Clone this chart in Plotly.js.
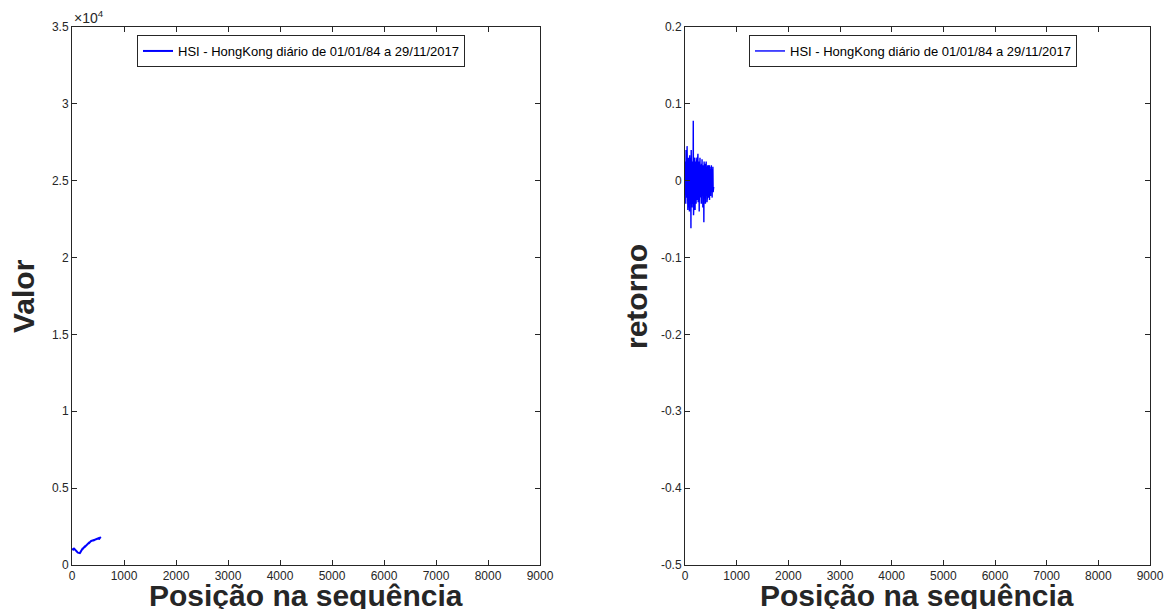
<!DOCTYPE html>
<html>
<head>
<meta charset="utf-8">
<script src="https://cdn.plot.ly/plotly-3.0.1.min.js"></script>
<style>html,body{margin:0;padding:0;background:#fff;}#chart{width:1167px;height:609px;}</style>
</head>
<body>
<div id="chart"></div>
<script>
// Sequence step between read values (positions in the series)
const step = 5;
const seriesName = 'HSI - HongKong diário de 01/01/84 a 29/11/2017';
const xTitle = 'Posição na sequência';
const yTitleLeft = 'Valor';
const yTitleRight = 'retorno';

// HSI index value
const hsiValues = [
  1000,1010,1030,1045,1060,1040,1020,1050,1065,1055,
  1030,1005,985,960,940,920,905,880,860,840,
  850,830,815,800,790,785,775,780,790,780,
  770,790,830,860,880,910,940,970,1000,1020,
  1050,1040,1070,1090,1110,1130,1150,1170,1180,1200,
  1190,1210,1230,1250,1270,1280,1300,1320,1310,1340,
  1360,1380,1370,1400,1420,1440,1430,1460,1480,1500,
  1520,1510,1530,1550,1560,1570,1560,1580,1600,1590,
  1580,1600,1610,1620,1600,1590,1610,1630,1640,1630,
  1650,1660,1640,1670,1690,1700,1680,1700,1720,1710,
  1730,1750,1740,1720,1700,1710,1740,1760,1780,1770,
  1790,1815
];

// Daily returns
const retValues = [
  0.012,-0.018,0.025,-0.030,0.040,-0.022,0.035,-0.015,0.045,-0.028,
  0.030,-0.038,0.020,-0.035,0.030,-0.025,0.018,-0.040,0.033,-0.020,
  0.025,-0.030,0.030,-0.062,0.040,-0.020,0.015,-0.035,0.025,-0.018,
  0.020,-0.030,0.078,-0.045,0.035,-0.025,0.028,-0.020,0.030,-0.038,
  0.022,-0.015,0.025,-0.030,0.018,-0.020,0.030,-0.025,0.020,-0.015,
  0.035,-0.028,0.015,-0.020,0.025,-0.040,0.018,-0.022,0.030,-0.018,
  0.020,-0.025,0.015,-0.030,0.022,-0.020,0.028,-0.015,0.018,-0.035,
  0.020,-0.018,0.015,-0.054,0.025,-0.020,0.018,-0.025,0.022,-0.030,
  0.015,-0.020,0.025,-0.015,0.018,-0.028,0.012,-0.020,0.020,-0.015,
  0.015,-0.022,0.018,-0.012,0.020,-0.025,0.015,-0.018,0.012,-0.020,
  0.018,-0.015,0.020,-0.010,0.012,-0.022,0.015,-0.012,0.018,-0.015,
  0.012,-0.008
];

// Tick labels
const xTicks = [0,1000,2000,3000,4000,5000,6000,7000,8000,9000];
const yTicksLeft = [0,5000,10000,15000,20000,25000,30000,35000];
const yTickTextLeft = ['0','0.5','1','1.5','2','2.5','3','3.5'];
const yTicksRight = [-0.5,-0.4,-0.3,-0.2,-0.1,0,0.1,0.2];
const yTickTextRight = ['-0.5','-0.4','-0.3','-0.2','-0.1','0','0.1','0.2'];

const xHsi = hsiValues.map((_, i) => i * step);
const xRet = retValues.map((_, i) => i * step);

const FONT = 'Liberation Sans, Arial, sans-serif';
const AX = '#262626';
const TITLE_FONT = {family: FONT, size: 30, color: AX, weight: 'bold'};

const traces = [
  {x: xHsi, y: hsiValues, type: 'scatter', mode: 'lines', name: seriesName,
   line: {color: '#0000ff', width: 2}, xaxis: 'x', yaxis: 'y', legend: 'legend'},
  {x: xRet, y: retValues, type: 'scatter', mode: 'lines', name: seriesName,
   line: {color: '#0000ff', width: 1.4}, xaxis: 'x2', yaxis: 'y2', legend: 'legend2'}
];

function xax(domain, anchor) {
  return {domain: domain, anchor: anchor, range: [0, 9000], tickvals: xTicks,
    ticktext: xTicks.map(String), ticks: 'inside', ticklen: 5, tickcolor: AX,
    showline: true, linecolor: AX, linewidth: 1, mirror: 'ticks',
    showgrid: false, zeroline: false, tickfont: {family: FONT, size: 12, color: AX}};
}
function yax(domain, anchor, range, vals, txt) {
  return {domain: domain, anchor: anchor, range: range, tickvals: vals, ticktext: txt,
    ticks: 'inside', ticklen: 5, tickcolor: AX, showline: true, linecolor: AX, linewidth: 1,
    mirror: 'ticks', showgrid: false, zeroline: false,
    tickfont: {family: FONT, size: 12, color: AX}};
}

const yDom = [1 - 565/609, 1 - 27/609];
const yMid = 1 - 296/609;
const layout = {
  width: 1167, height: 609,
  margin: {l: 0, r: 0, t: 0, b: 0},
  paper_bgcolor: '#ffffff', plot_bgcolor: '#ffffff',
  font: {family: FONT, color: AX},
  xaxis: xax([72/1167, 540/1167], 'y'),
  yaxis: yax(yDom, 'x', [0, 35000], yTicksLeft, yTickTextLeft),
  xaxis2: xax([685/1167, 1150/1167], 'y2'),
  yaxis2: yax(yDom, 'x2', [-0.5, 0.2], yTicksRight, yTickTextRight),
  showlegend: true,
  legend: {x: 137/1167, y: 1 - 35/609, xanchor: 'left', yanchor: 'top',
    bgcolor: '#ffffff', bordercolor: AX, borderwidth: 1,
    font: {family: FONT, size: 13, color: '#000'}},
  legend2: {x: 749/1167, y: 1 - 35/609, xanchor: 'left', yanchor: 'top',
    bgcolor: '#ffffff', bordercolor: AX, borderwidth: 1,
    font: {family: FONT, size: 13, color: '#000'}},
  annotations: [
    {xref: 'paper', yref: 'paper', x: 72/1167, y: 1 - 17/609, xanchor: 'left', yanchor: 'middle',
     text: '×10<sup>4</sup>', showarrow: false, font: {family: FONT, size: 14, color: AX}},
    {xref: 'paper', yref: 'paper', x: 306/1167, y: 1 - 595/609, xanchor: 'center', yanchor: 'middle',
     text: xTitle, showarrow: false, font: TITLE_FONT},
    {xref: 'paper', yref: 'paper', x: 917/1167, y: 1 - 595/609, xanchor: 'center', yanchor: 'middle',
     text: xTitle, showarrow: false, font: TITLE_FONT},
    {xref: 'paper', yref: 'paper', x: 23/1167, y: yMid, xanchor: 'center', yanchor: 'middle',
     text: yTitleLeft, textangle: -90, showarrow: false, font: TITLE_FONT},
    {xref: 'paper', yref: 'paper', x: 636/1167, y: yMid, xanchor: 'center', yanchor: 'middle',
     text: yTitleRight, textangle: -90, showarrow: false, font: TITLE_FONT}
  ]
};

Plotly.newPlot('chart', traces, layout, {displayModeBar: false, staticPlot: true});
</script>
</body>
</html>
